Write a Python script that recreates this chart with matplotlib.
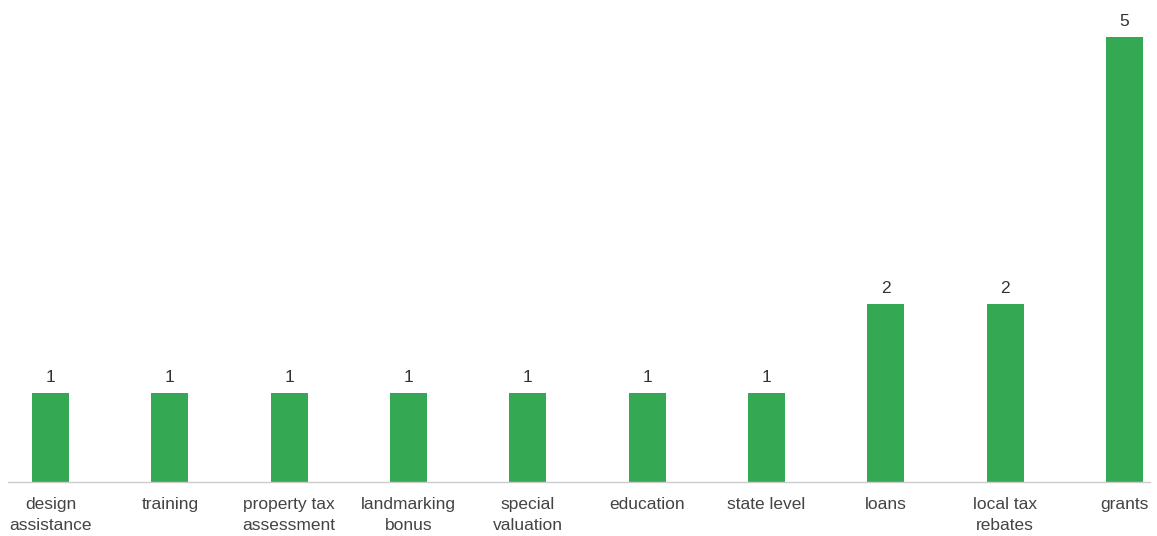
import matplotlib
matplotlib.use("Agg")
import matplotlib.pyplot as plt

categories = ["design\nassistance", "training", "property tax\nassessment", "landmarking\nbonus",
              "special\nvaluation", "education", "state level", "loans", "local tax\nrebates", "grants"]
values = [1, 1, 1, 1, 1, 1, 1, 2, 2, 5]

plt.rcParams['font.family'] = ['Liberation Sans', 'DejaVu Sans']

fig = plt.figure(figsize=(11.57, 5.36), dpi=100)
ax = fig.add_axes([8/1157, (536-482)/536, (1150-8)/1157, (482-13)/536])

x = list(range(len(categories)))
bars = ax.bar(x, values, width=0.31, color="#34A853", zorder=2)
for xi, v in zip(x, values):
    ax.annotate(str(v), (xi, v), xytext=(0, 6), textcoords="offset points",
                ha="center", va="bottom", fontsize=12.5, color="#333333")

ax.set_xlim((8-50.5)/119.33, (1150-50.5)/119.33)
ax.set_ylim(0, 5.27)
ax.set_xticks(x)
ax.set_xticklabels(categories, fontsize=12.5, color="#444444", linespacing=1.45)
ax.tick_params(axis='x', length=0, pad=11)
ax.set_yticks([])
for s in ["top", "right", "left"]:
    ax.spines[s].set_visible(False)
ax.spines["bottom"].set_color("#cccccc")
ax.spines["bottom"].set_linewidth(1)

fig.savefig("out.png", dpi=100, facecolor="white")
